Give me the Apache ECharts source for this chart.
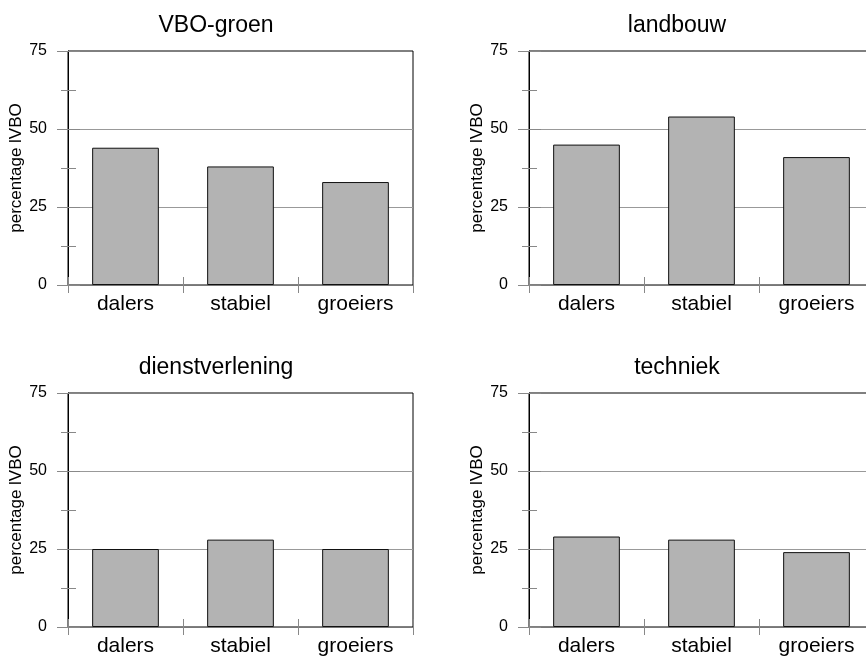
<!DOCTYPE html>
<html><head><meta charset="utf-8">
<script src="https://cdn.jsdelivr.net/npm/echarts@6/dist/echarts.min.js"></script>
<style>html,body{margin:0;padding:0;background:#fff;overflow:hidden}#c{width:880px;height:660px}</style>
</head><body><div id="c"></div>
<script>
const categories = ['dalers', 'stabiel', 'groeiers'];
const panelTitles = ['VBO-groen', 'landbouw', 'dienstverlening', 'techniek'];
const vboGroen = [44, 38, 33];
const landbouw = [45, 54, 41];
const dienstverlening = [25, 28, 25];
const techniek = [29, 28, 24];
const yTicks = [0, 25, 50, 75];
const yAxisName = 'percentage lVBO';

const panelData = [vboGroen, landbouw, dienstverlening, techniek];
const panels = [
  {left: 68, top: 51, width: 345, height: 234},
  {left: 529, top: 51, width: 345, height: 234},
  {left: 68, top: 393, width: 345, height: 234},
  {left: 529, top: 393, width: 345, height: 234}
];
const font = 'Liberation Sans, Arial, Helvetica, sans-serif';
const tickCol = '#888';
const option = {animation: false, backgroundColor: '#fff', title: [], grid: [], xAxis: [], yAxis: [], series: []};
panels.forEach((g, i) => {
  const gi = 2 * i, gj = 2 * i + 1;
  option.grid.push(Object.assign({show: true, borderColor: '#000', borderWidth: 1, backgroundColor: 'transparent'}, g));
  option.grid.push(Object.assign({show: false}, g));
  option.title.push({text: panelTitles[i], left: g.left + 143, top: g.top - 42, textAlign: 'center',
    textStyle: {fontFamily: font, fontSize: 23, fontWeight: 'normal', color: '#000'}});
  const yBase = {type: 'value', position: 'left', min: yTicks[0], max: yTicks[yTicks.length - 1], interval: 25};
  // main axes (outer ticks, labels)
  option.xAxis.push({type: 'category', gridIndex: gi, data: categories, boundaryGap: true, position: 'bottom',
    axisLine: {show: true, lineStyle: {color: '#777', width: 1}},
    axisTick: {show: true, inside: false, length: 8, lineStyle: {color: tickCol}},
    axisLabel: {fontFamily: font, fontSize: 21, color: '#000', margin: 9},
    splitLine: {show: false}});
  option.yAxis.push(Object.assign({gridIndex: gi}, yBase, {
    name: yAxisName, nameLocation: 'middle', nameGap: 40,
    nameTextStyle: {fontFamily: font, fontSize: 17, color: '#000'},
    axisLine: {show: true, lineStyle: {color: '#000', width: 1}},
    axisTick: {show: true, inside: false, length: 11, lineStyle: {color: tickCol}},
    minorTick: {show: true, splitNumber: 2, length: 7, lineStyle: {color: tickCol}},
    axisLabel: {fontFamily: font, fontSize: 16, color: '#000', margin: 21},
    splitLine: {show: true, showMinLine: false, showMaxLine: false, lineStyle: {color: '#999', width: 1}}}));
  // overlay axes (inner ticks only)
  option.xAxis.push({type: 'category', gridIndex: gj, data: categories, boundaryGap: true, position: 'bottom',
    axisLine: {show: true, lineStyle: {opacity: 0}}, axisTick: {show: true, inside: true, length: 8, lineStyle: {color: tickCol}},
    axisLabel: {show: false}, splitLine: {show: false}});
  option.yAxis.push(Object.assign({gridIndex: gj}, yBase, {
    axisLine: {show: true, lineStyle: {opacity: 0}},
    axisTick: {show: true, inside: true, length: 12, lineStyle: {color: tickCol}},
    minorTick: {show: true, splitNumber: 2, length: 8, lineStyle: {color: tickCol}},
    axisLabel: {show: false}, splitLine: {show: false}}));
  option.series.push({type: 'bar', xAxisIndex: gi, yAxisIndex: gi, data: panelData[i],
    barWidth: '58%', z: 3,
    itemStyle: {color: '#b3b3b3', borderColor: '#111', borderWidth: 1}});
});
echarts.init(document.getElementById('c'), null, {renderer: 'canvas'}).setOption(option);
</script>
</body></html>
